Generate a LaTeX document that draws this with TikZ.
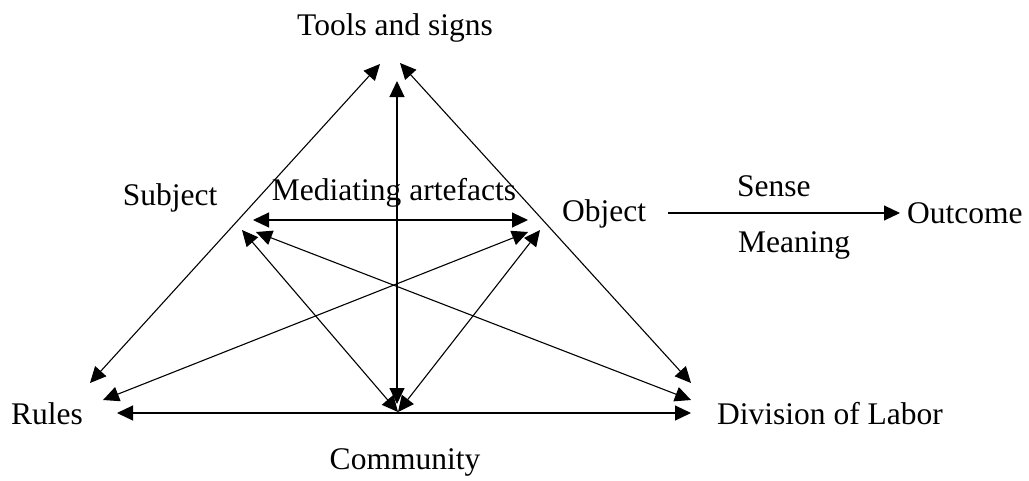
\documentclass[tikz,border=0pt]{standalone}
\usepackage{fontspec}
\setmainfont{Liberation Serif}
\usetikzlibrary{arrows.meta}
\tikzset{
  tip/.tip={Triangle[length=16pt,width=15pt]},
  biarrow/.style={{tip}-{tip}, line width=1.1pt, black},
  onearrow/.style={-{tip}, line width=1.1pt, black},
  lbl/.style={inner sep=0pt, font=\fontsize{31.5}{38}\selectfont}
}
\begin{document}
\begin{tikzpicture}[x=1pt,y=-1pt]
\useasboundingbox (0,0) rectangle (1029,480);
% labels
\node[lbl, anchor=base] (tools) at (395,35) {Tools and signs};
\node[lbl, anchor=base] (subject) at (170,205) {Subject};
\node[lbl, anchor=base] (med) at (394,200) {Mediating artefacts};
\node[lbl, anchor=base west] (object) at (562,221) {Object};
\node[lbl, anchor=base west] (sense) at (737,196) {Sense};
\node[lbl, anchor=base west] (meaning) at (738,252) {Meaning};
\node[lbl, anchor=base west] (outcome) at (907,223) {Outcome};
\node[lbl, anchor=base west] (rules) at (11,424) {Rules};
\node[lbl, anchor=base west] (division) at (717,424) {Division of Labor};
\node[lbl, anchor=base] (community) at (405,469) {Community};
% endpoints
\coordinate (tl) at (380,64);
\coordinate (tr) at (400,63);
\coordinate (tv) at (397,81);
\coordinate (bl) at (90,383);
\coordinate (br) at (691,383);
\coordinate (bv) at (397,404);
\coordinate (bc) at (398,412);
\coordinate (hl) at (117,413);
\coordinate (hr) at (691,413);
\coordinate (ml) at (253,220);
\coordinate (mr) at (528,220);
\coordinate (x1a) at (256,232);
\coordinate (x1b) at (691,400);
\coordinate (x2a) at (528,232);
\coordinate (x2b) at (103,400);
\coordinate (dl) at (242,230);
\coordinate (dr) at (540,230);
\coordinate (oa) at (668,213);
\coordinate (ob) at (900,213);
% connectors
\draw[biarrow] (tl) -- (bl);
\draw[biarrow] (tr) -- (br);
\draw[biarrow] (tv) -- (bv);
\draw[biarrow] (hl) -- (hr);
\draw[biarrow] (ml) -- (mr);
\draw[biarrow] (x1a) -- (x1b);
\draw[biarrow] (x2a) -- (x2b);
\draw[biarrow] (dl) -- (bc);
\draw[biarrow] (dr) -- (bc);
\draw[onearrow] (oa) -- (ob);
\end{tikzpicture}
\end{document}
